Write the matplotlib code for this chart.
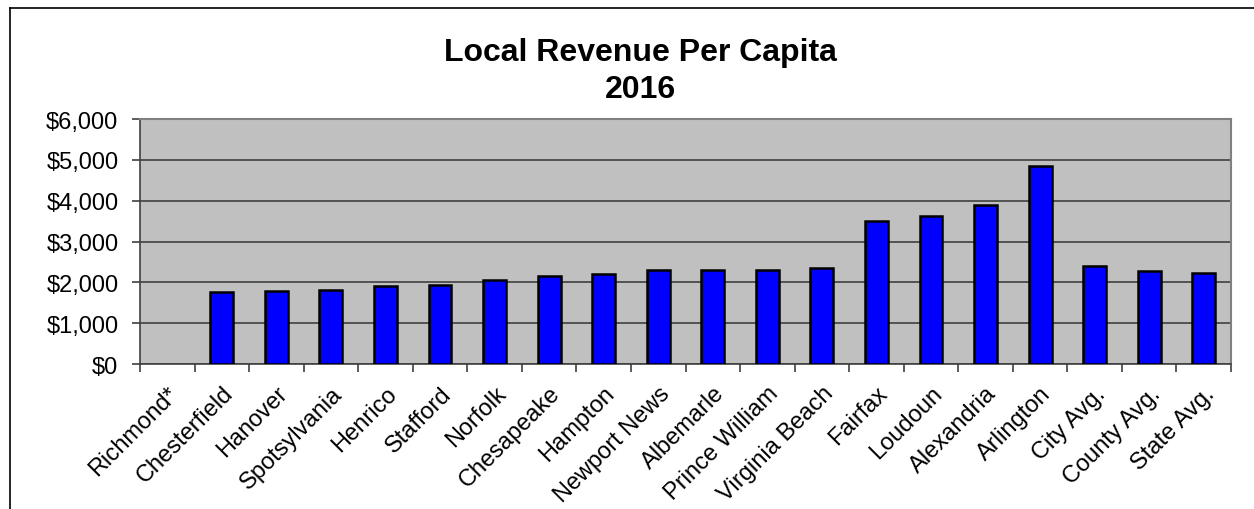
import numpy as np
import matplotlib
matplotlib.use('Agg')
import matplotlib.pyplot as plt
from matplotlib.lines import Line2D
from matplotlib.ticker import FuncFormatter, MultipleLocator

## Data (Richmond* has no bar)
localities = ['Richmond*', 'Chesterfield', 'Hanover', 'Spotsylvania', 'Henrico',
              'Stafford', 'Norfolk', 'Chesapeake', 'Hampton', 'Newport News',
              'Albemarle', 'Prince William', 'Virginia Beach', 'Fairfax',
              'Loudoun', 'Alexandria', 'Arlington', 'City Avg.', 'County Avg.',
              'State Avg.']
revenue = [np.nan, 1756, 1780, 1812, 1903, 1935, 2057, 2150, 2213, 2294,
           2294, 2294, 2362, 3505, 3618, 3904, 4853, 2402, 2270, 2230]

plt.rcParams['font.family'] = ['Liberation Sans', 'DejaVu Sans']

fig = plt.figure(figsize=(12.54, 5.10), dpi=100)
ax = fig.add_axes([140 / 1254, 1 - 365 / 510, (1231 - 140) / 1254, (365 - 120) / 510])
ax.set_facecolor('#C0C0C0')

x = np.arange(len(localities))
ax.bar(x, revenue, width=0.42, color='#0000FF', edgecolor='black', linewidth=1.8, zorder=3)

## Axes and gridlines
ax.set_xlim(-0.5, len(localities) - 0.5)
ax.set_ylim(0, 6000)
ax.yaxis.set_major_locator(MultipleLocator(1000))
ax.yaxis.set_major_formatter(FuncFormatter(lambda v, p: '${:,.0f}'.format(v)))
ax.grid(axis='y', color='#404040', linewidth=1.2, zorder=1)

ax.set_xticks(x)
ax.set_xticklabels(localities, rotation=45, ha='right', rotation_mode='anchor', fontsize=17)
ax.set_xticks(np.arange(-0.5, len(localities)), minor=True)
ax.tick_params(axis='x', which='major', length=0, pad=13)
ax.tick_params(axis='x', which='minor', length=6, width=1.2, color='#404040')
ax.tick_params(axis='y', labelsize=17, length=6, width=1.2, color='#404040', pad=9.5)

for s in ['top', 'right']:
    ax.spines[s].set_color('#808080')
    ax.spines[s].set_linewidth(1.5)
for s in ['left', 'bottom']:
    ax.spines[s].set_color('#404040')
    ax.spines[s].set_linewidth(1.2)

## Title
fig.text(0.5105, 1 - 71.5 / 510, 'Local Revenue Per Capita\n2016', ha='center', va='center',
         fontsize=23, fontweight='bold', linespacing=1.3)

## Chart frame (left and top edges visible)
fig.add_artist(Line2D([10 / 1254, 10 / 1254], [0, 1 - 9 / 510], color='black', linewidth=1.2))
fig.add_artist(Line2D([10 / 1254, 1], [1 - 9 / 510, 1 - 9 / 510], color='black', linewidth=1.2))

plt.savefig('out.png', dpi=100)
